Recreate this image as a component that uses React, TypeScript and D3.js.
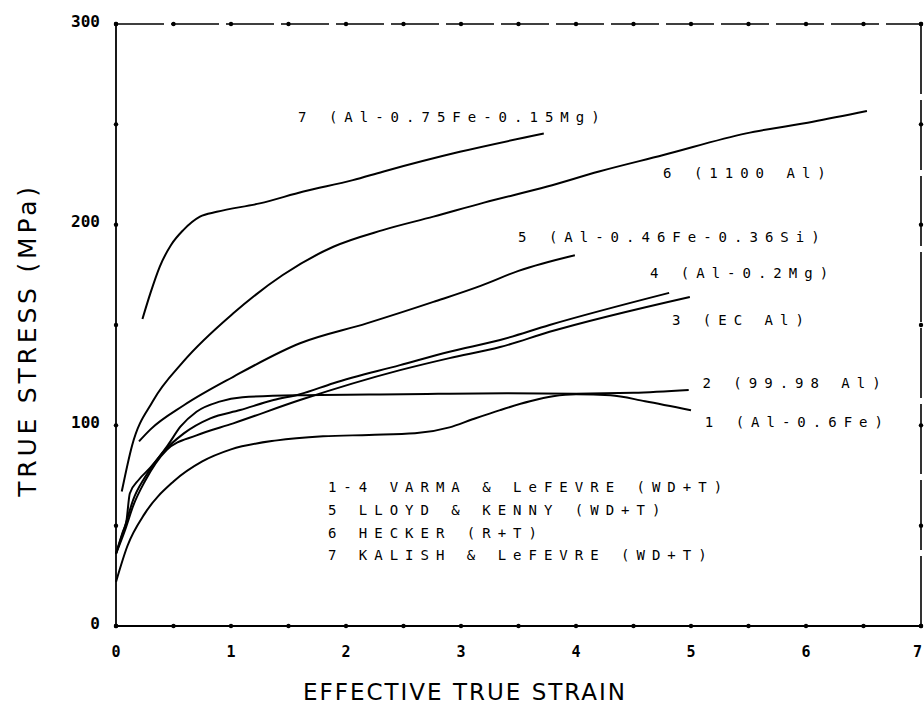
import { useEffect, useRef } from "react";
import * as d3 from "d3";

// Effective true strain vs true stress (MPa)
const strain1 = [0, 0.1, 0.25, 0.5, 0.75, 1.0, 1.4, 1.8, 2.2, 2.6, 2.9, 3.1, 3.34, 3.6, 3.8, 4.0, 4.3, 4.6, 5.0];
const stress1 = [22, 40, 56, 72, 82, 88, 92.5, 94.5, 95.2, 96, 99, 103, 107.6, 112, 114.5, 115.5, 115, 112, 107.5];

const strain2 = [0, 0.06, 0.09, 0.12, 0.2, 0.3, 0.45, 0.56, 0.7, 0.9, 1.1, 1.6, 2.5, 3.4, 4.0, 4.5, 4.98];
const stress2 = [36, 47, 52, 66, 73, 79, 90, 99.3, 106.8, 111.8, 114, 115, 115.5, 116, 115.8, 116.2, 117.6];

const strain3 = [0, 0.08, 0.15, 0.25, 0.44, 0.7, 1.02, 1.6, 2.47, 2.9, 3.34, 3.77, 4.99];
const stress3 = [36, 48, 60, 72, 87.7, 95, 101, 112.6, 127.5, 133.5, 139, 146.6, 164];

const strain4 = [0, 0.08, 0.15, 0.25, 0.4, 0.59, 0.82, 1.08, 1.37, 1.6, 1.89, 2.47, 2.9, 3.34, 3.77, 4.81];
const stress4 = [36, 50, 63, 74, 86, 96, 103.5, 107.6, 112.6, 115.5, 121, 130, 136.7, 142.5, 150, 166];

const strain5 = [0.2, 0.3, 0.59, 1.02, 1.6, 2.18, 2.76, 3.17, 3.5, 3.99];
const stress5 = [92, 98, 110, 124.2, 140.9, 150.8, 161.5, 169.5, 177, 184.8];

const strain6 = [0.05, 0.14, 0.32, 0.585, 1.02, 1.45, 1.89, 2.32, 2.76, 3.2, 3.75, 4.2, 4.76, 5.48, 6.06, 6.53];
const stress6 = [67, 90, 112, 131.7, 155.8, 174.9, 189, 197.3, 204, 211, 219, 226.5, 234.7, 245.5, 251.3, 256.6];

const strain7 = [0.23, 0.3, 0.38, 0.48, 0.585, 0.73, 0.876, 1.25, 1.63, 2.06, 2.32, 2.99, 3.72];
const stress7 = [153, 166, 179, 190, 197.3, 204, 206.4, 210.6, 216.5, 222.2, 226.4, 236.3, 245.4];

const curveLabels = [
  "1 (Al-0.6Fe)",
  "2 (99.98 Al)",
  "3 (EC Al)",
  "4 (Al-0.2Mg)",
  "5 (Al-0.46Fe-0.36Si)",
  "6 (1100 Al)",
  "7 (Al-0.75Fe-0.15Mg)",
];

const sourceLines = [
  "1-4 VARMA & LeFEVRE (WD+T)",
  "5 LLOYD & KENNY (WD+T)",
  "6 HECKER (R+T)",
  "7 KALISH & LeFEVRE (WD+T)",
];

const yTickLabels = [0, 100, 200, 300];
const xTickLabels = [0, 1, 2, 3, 4, 5, 6, 7];

// where the curve labels sit, in data units (strain, stress)
const labelSpots = [
  [5.12, 101.7],
  [5.1, 121.1],
  [4.835, 152.5],
  [4.643, 175.9],
  [3.496, 193.9],
  [4.757, 225.7],
  [1.583, 253.7],
];
const sourceSpot = { x: 1.843, y: 69.3, step: 11.4 };

function App() {
  const ref = useRef(null);

  useEffect(() => {
    const svg = d3.select(ref.current);
    const width = 924;
    const height = 715;
    const margin = { top: 24, right: 3, bottom: 89, left: 116 };

    const x = d3.scaleLinear().domain([0, 7]).range([margin.left, width - margin.right]);
    const y = d3.scaleLinear().domain([0, 300]).range([height - margin.bottom, margin.top]);

    const monoFont = "'DejaVu Sans Mono', monospace";

    // Frame
    const frame = svg.append("g").attr("stroke", "#000").attr("fill", "none");
    frame.append("line").attr("x1", x(0)).attr("x2", x(7)).attr("y1", y(0)).attr("y2", y(0)).attr("stroke-width", 1.8);
    frame.append("line").attr("x1", x(0)).attr("x2", x(0)).attr("y1", y(0)).attr("y2", y(300)).attr("stroke-width", 1.8);
    frame
      .append("line")
      .attr("x1", x(0))
      .attr("x2", x(7))
      .attr("y1", y(300))
      .attr("y2", y(300))
      .attr("stroke-width", 1.6)
      .attr("stroke-dasharray", "48 7");
    frame
      .append("line")
      .attr("x1", x(7))
      .attr("x2", x(7))
      .attr("y1", y(300))
      .attr("y2", y(0))
      .attr("stroke-width", 1.6)
      .attr("stroke-dasharray", "70 6");

    // Tick dots on all four sides
    const xt = d3.range(0, 7.01, 0.5);
    const yt = d3.range(0, 301, 50);
    const dots = svg.append("g").attr("fill", "#000");
    [y(0), y(300)].forEach((yy) => {
      dots.selectAll(null).data(xt).enter().append("circle")
        .attr("cx", (d) => x(d)).attr("cy", yy).attr("r", 2.2);
    });
    [x(0), x(7)].forEach((xx) => {
      dots.selectAll(null).data(yt).enter().append("circle")
        .attr("cx", xx).attr("cy", (d) => y(d)).attr("r", 2.2);
    });

    // Tick labels
    svg.append("g")
      .selectAll("text")
      .data(yTickLabels)
      .enter()
      .append("text")
      .attr("x", x(0) - 16)
      .attr("y", (d) => y(d) - 3)
      .attr("dy", "0.35em")
      .attr("text-anchor", "end")
      .attr("font-family", monoFont)
      .attr("font-weight", "bold")
      .attr("font-size", 16)
      .text((d) => d);

    // the last label sits at the page edge, so it is anchored by its end
    svg.append("g")
      .selectAll("text")
      .data(xTickLabels)
      .enter()
      .append("text")
      .attr("x", (d) => (d === 7 ? width - 2 : x(d)))
      .attr("y", y(0) + 26)
      .attr("dy", "0.35em")
      .attr("text-anchor", (d) => (d === 7 ? "end" : "middle"))
      .attr("font-family", monoFont)
      .attr("font-weight", "bold")
      .attr("font-size", 15)
      .text((d) => d);

    // Axis titles
    svg.append("text")
      .attr("x", 465)
      .attr("y", 692)
      .attr("dy", "0.35em")
      .attr("text-anchor", "middle")
      .attr("font-family", "'DejaVu Sans', sans-serif")
      .attr("font-size", 23)
      .attr("letter-spacing", 2)
      .text("EFFECTIVE TRUE STRAIN");

    svg.append("text")
      .attr("transform", "translate(27, 340) rotate(-90)")
      .attr("dy", "0.35em")
      .attr("text-anchor", "middle")
      .attr("font-family", "'DejaVu Sans', sans-serif")
      .attr("font-size", 25)
      .attr("letter-spacing", 3.8)
      .text("TRUE STRESS (MPa)");

    // Curves
    const curves = [
      [strain1, stress1],
      [strain2, stress2],
      [strain3, stress3],
      [strain4, stress4],
      [strain5, stress5],
      [strain6, stress6],
      [strain7, stress7],
    ].map(([xs, ys]) => xs.map((v, i) => [v, ys[i]]));

    const line = d3
      .line()
      .x((d) => x(d[0]))
      .y((d) => y(d[1]))
      .curve(d3.curveMonotoneX);

    svg.append("g")
      .selectAll("path")
      .data(curves)
      .enter()
      .append("path")
      .attr("d", line)
      .attr("fill", "none")
      .attr("stroke", "#000")
      .attr("stroke-width", 2)
      .attr("stroke-linejoin", "round");

    // Curve labels
    svg.append("g")
      .selectAll("text")
      .data(curveLabels)
      .enter()
      .append("text")
      .attr("x", (d, i) => x(labelSpots[i][0]))
      .attr("y", (d, i) => y(labelSpots[i][1]))
      .attr("dy", "0.35em")
      .attr("font-family", monoFont)
      .attr("font-size", 14)
      .attr("letter-spacing", 7)
      .text((d) => d);

    // Sources
    svg.append("g")
      .selectAll("text")
      .data(sourceLines)
      .enter()
      .append("text")
      .attr("x", x(sourceSpot.x))
      .attr("y", (d, i) => y(sourceSpot.y - i * sourceSpot.step))
      .attr("dy", "0.35em")
      .attr("font-family", monoFont)
      .attr("font-size", 14)
      .attr("letter-spacing", 7)
      .text((d) => d);

    return () => {
      svg.selectAll("*").remove();
    };
  }, []);

  return (
    <svg
      ref={ref}
      width={924}
      height={715}
      style={{ position: "absolute", left: 0, top: 0, background: "#fff" }}
    />
  );
}

export default App;
